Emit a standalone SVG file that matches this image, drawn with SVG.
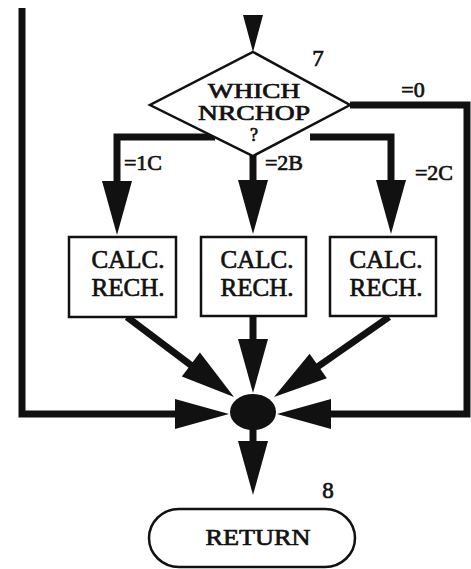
<svg xmlns="http://www.w3.org/2000/svg" width="471" height="569" viewBox="0 0 471 569">
<style>
.ln{fill:none;stroke:#111;stroke-width:7;stroke-linejoin:miter}
.ah{fill:#111}
.bx{fill:#fff;stroke:#111;stroke-width:2.5}
.t{font-family:"Liberation Serif",serif;fill:#111;stroke:#111;stroke-width:0.7;text-anchor:middle}
</style>
<defs>
<path id="arr" d="M0,0 L-15,-54 L15,-54 Z"/>
</defs>
<rect width="471" height="569" fill="#fff"/>
<g id="connectors">
<polygon class="ah" points="243,15 263,15 253,52"/>
<polyline class="ln" points="22,8 22,414 180,414"/>
<use href="#arr" class="ah" transform="translate(229,414) rotate(-90)"/>
<polyline class="ln" points="350,105 467,105 467,414 325,414"/>
<use href="#arr" class="ah" transform="translate(277,414) rotate(90)"/>
<polyline class="ln" points="215,137 117,137 117,186"/>
<use href="#arr" class="ah" transform="translate(117,235)"/>
<polyline class="ln" points="253,153 253,186"/>
<use href="#arr" class="ah" transform="translate(253,234)"/>
<polyline class="ln" points="310,137 391,137 391,186"/>
<use href="#arr" class="ah" transform="translate(391,234)"/>
<line class="ln" x1="127" y1="317" x2="196" y2="369"/>
<use href="#arr" class="ah" transform="translate(234,397) rotate(-53)"/>
<line class="ln" x1="253" y1="317" x2="253" y2="344"/>
<use href="#arr" class="ah" transform="translate(253,393)"/>
<line class="ln" x1="389" y1="317" x2="313" y2="370"/>
<use href="#arr" class="ah" transform="translate(274,397) rotate(55)"/>
<line class="ln" x1="253" y1="426" x2="253" y2="445"/>
<use href="#arr" class="ah" transform="translate(253,495)"/>
<text class="t" x="143" y="170" font-size="22">=1C</text>
<text class="t" x="284" y="170" font-size="22">=2B</text>
<text class="t" x="434" y="180" font-size="22">=2C</text>
<text class="t" x="413" y="97" font-size="22">=0</text>
</g>
<g id="decision">
<polygon points="253,52 350,105 253,156 150,105" fill="#fff" stroke="#111" stroke-width="2.5"/>
<text class="t" x="254" y="98" font-size="21" textLength="92" lengthAdjust="spacingAndGlyphs">WHICH</text>
<text class="t" x="254" y="120" font-size="21" textLength="112" lengthAdjust="spacingAndGlyphs">NRCHOP</text>
<text class="t" x="254" y="141" font-size="18">?</text>
<text class="t" x="318" y="66" font-size="23">7</text>
</g>
<g id="calc1">
<rect class="bx" x="69" y="237" width="107" height="80"/>
<text class="t" x="128" y="268" font-size="25">CALC.</text>
<text class="t" x="128" y="296" font-size="25">RECH.</text>
</g>
<g id="calc2">
<rect class="bx" x="201" y="237" width="105" height="79"/>
<text class="t" x="257" y="268" font-size="25">CALC.</text>
<text class="t" x="257" y="296" font-size="25">RECH.</text>
</g>
<g id="calc3">
<rect class="bx" x="330" y="237" width="106" height="79"/>
<text class="t" x="386" y="268" font-size="25">CALC.</text>
<text class="t" x="386" y="296" font-size="25">RECH.</text>
</g>
<g id="join">
<ellipse cx="253" cy="412" rx="23" ry="18" fill="#111"/>
</g>
<g id="return">
<rect x="149" y="509" width="206" height="58" rx="30" ry="30" fill="#fff" stroke="#111" stroke-width="2.5"/>
<text class="t" x="258" y="545" font-size="24" textLength="105" lengthAdjust="spacingAndGlyphs">RETURN</text>
<text class="t" x="328" y="498" font-size="23">8</text>
</g>
</svg>
